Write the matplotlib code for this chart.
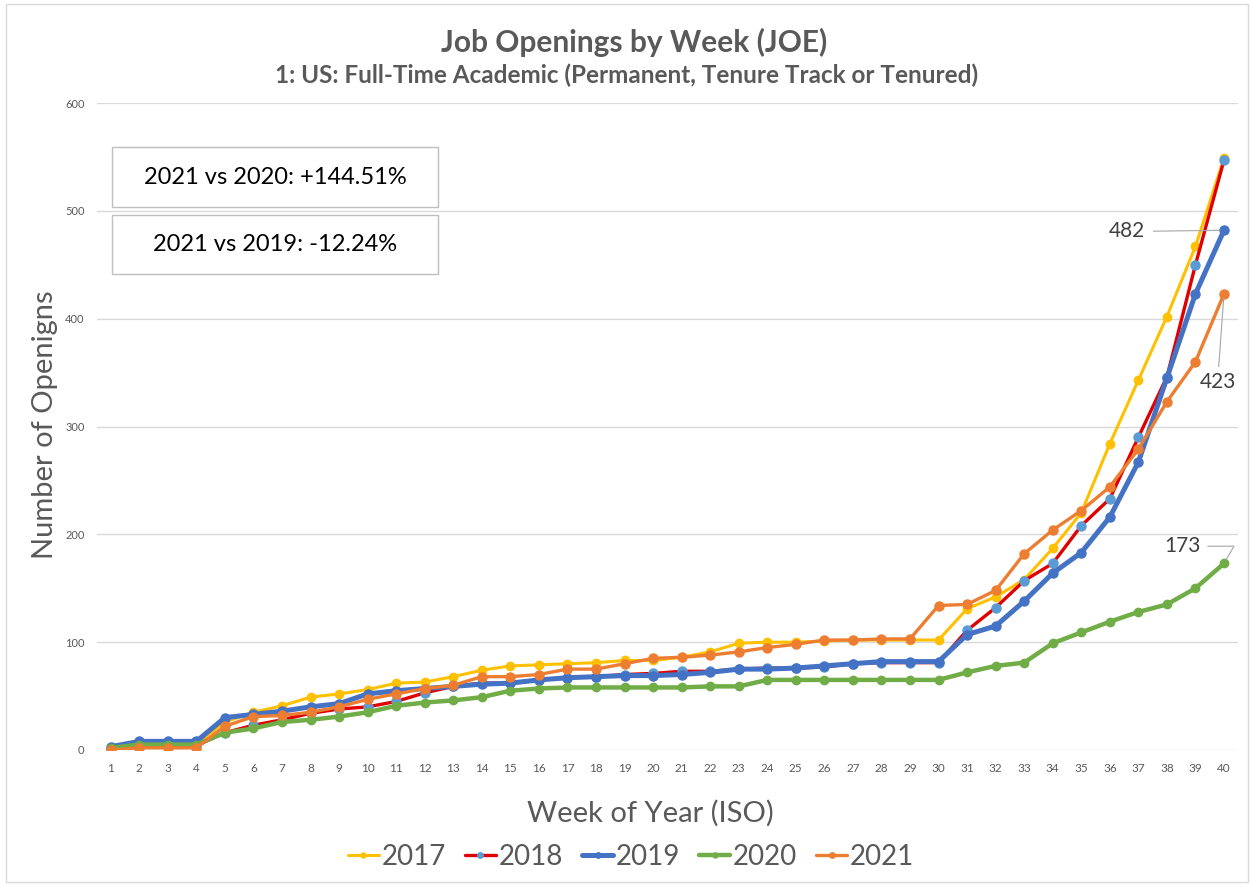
import matplotlib
matplotlib.use("Agg")
import matplotlib.pyplot as plt
from matplotlib.patches import Rectangle

weeks = list(range(1, 41))
s2017 = [2, 5, 5, 5, 26, 35, 41, 49, 52, 56, 62, 63, 68, 74, 78, 79, 80, 81, 83, 83,
         86, 91, 99, 100, 100, 101, 102, 102, 102, 102, 131, 142, 158, 187, 220, 284, 343, 402, 467, 549]
s2018 = [2, 4, 4, 4, 16, 23, 28, 34, 38, 40, 45, 53, 59, 62, 62, 65, 67, 68, 70, 71,
         73, 73, 75, 76, 76, 77, 80, 81, 81, 81, 111, 132, 157, 173, 208, 233, 290, 346, 450, 547]
s2019 = [3, 8, 8, 8, 30, 33, 36, 40, 43, 52, 55, 57, 59, 61, 62, 65, 67, 68, 69, 69,
         70, 72, 75, 75, 76, 78, 80, 82, 82, 82, 107, 115, 138, 164, 183, 216, 267, 345, 423, 482]
s2020 = [2, 5, 5, 5, 16, 20, 26, 28, 31, 35, 41, 44, 46, 49, 55, 57, 58, 58, 58, 58,
         58, 59, 59, 65, 65, 65, 65, 65, 65, 65, 72, 78, 81, 99, 109, 119, 128, 135, 150, 173]
s2021 = [0, 2, 2, 2, 22, 31, 32, 35, 40, 47, 52, 57, 60, 68, 68, 70, 75, 75, 80, 85,
         86, 88, 91, 95, 98, 102, 102, 103, 103, 134, 135, 148, 182, 204, 222, 244, 279, 323, 360, 423]
years = ["2017", "2018", "2019", "2020", "2021"]
box_texts = ["2021 vs 2020: +144.51%", "2021 vs 2019: -12.24%"]
title = "Job Openings by Week (JOE)"
subtitle = "1: US: Full-Time Academic (Permanent, Tenure Track or Tenured)"

plt.rcParams['font.family'] = ['Lato', 'DejaVu Sans']
GRAY = '#595959'

W, H = 1252, 886
fig = plt.figure(figsize=(W / 100, H / 100), dpi=100)
fig.patches.append(Rectangle((6 / W, 4 / H), (W - 10) / W, (H - 8) / H, transform=fig.transFigure,
                             fill=False, edgecolor='#D9D9D9', linewidth=1.0))

ax = fig.add_axes([97 / W, 1 - 750 / H, (1238 - 97) / W, (750 - 103) / H])

styles = [
    dict(color='#FFC000', lw=2.2, marker='o', ms=6, mfc='#FFC000', mec='#FFC000'),
    dict(color='#E00000', lw=2.4, marker='o', ms=6.5, mfc='#5B9BD5', mec='#5B9BD5'),
    dict(color='#4472C4', lw=3.6, marker='o', ms=6.5, mfc='#4472C4', mec='#4472C4'),
    dict(color='#70AD47', lw=3.2, marker='o', ms=6, mfc='#70AD47', mec='#70AD47'),
    dict(color='#ED7D31', lw=2.4, marker='o', ms=6.5, mfc='#ED7D31', mec='#ED7D31'),
]
series = [s2017, s2018, s2019, s2020, s2021]
handles = []
for yr, vals, st in zip(years, series, styles):
    h, = ax.plot(weeks, vals, label=yr, solid_capstyle='round', **st)
    handles.append(h)

# x limits: week 1 at px 110.7, week 40 at px 1224
ppw = (1224 - 110.7) / 39
ax.set_xlim(1 - (110.7 - 97) / ppw, 40 + (1238 - 1224) / ppw)
ax.set_ylim(0, 600)
ax.set_xticks(weeks)
ax.set_xticklabels([str(w) for w in weeks])
ax.set_yticks([0, 100, 200, 300, 400, 500, 600])
ax.tick_params(axis='both', length=0, labelcolor=GRAY)
ax.tick_params(axis='x', labelsize=8.5, pad=9)
ax.tick_params(axis='y', labelsize=8, pad=9)
ax.grid(axis='y', color='#D9D9D9', linewidth=1.0)
ax.set_axisbelow(True)
for sp in ax.spines.values():
    sp.set_visible(False)

fig.text(45 / W, 1 - 425 / H, "Number of Openigns", rotation=90, ha='center', va='center',
         fontsize=21, color=GRAY)
fig.text(650 / W, 1 - 813 / H, "Week of Year (ISO)", ha='center', va='center',
         fontsize=21, color=GRAY)
fig.text(634 / W, 1 - 42 / H, title, ha='center', va='center', fontsize=21.5,
         fontweight='bold', color=GRAY)
fig.text(627 / W, 1 - 75 / H, subtitle, ha='center', va='center', fontsize=17.5,
         fontweight='bold', color=GRAY)

# comparison boxes
boxes = [(112, 147, 438, 207), (112, 215, 438, 274)]
for (x0, y0, x1, y1), txt in zip(boxes, box_texts):
    fig.patches.append(Rectangle((x0 / W, 1 - y1 / H), (x1 - x0) / W, (y1 - y0) / H,
                                 transform=fig.transFigure, facecolor='white',
                                 edgecolor='#BFBFBF', linewidth=1.0, zorder=5))
    fig.text((x0 + x1) / 2 / W, 1 - (y0 + y1) / 2 / H, txt, ha='center', va='center',
             fontsize=17, color='black', zorder=6)

# data labels with leader lines
lbl = dict(fontsize=15, color='#404040', ha='center', va='center')
ax.annotate(str(s2019[-1]), xy=(40, s2019[-1]), xytext=(36.6, 481), **lbl,
            arrowprops=dict(arrowstyle='-', color='#A6A6A6', lw=0.8, relpos=(1, 0.5),
                            shrinkA=4, shrinkB=3))
ax.annotate(str(s2021[-1]), xy=(40, s2021[-1]), xytext=(39.8, 341), **lbl,
            arrowprops=dict(arrowstyle='-', color='#A6A6A6', lw=0.8, relpos=(0.5, 1),
                            shrinkA=2, shrinkB=3))
ax.annotate(str(s2020[-1]), xy=(40, s2020[-1]), xytext=(38.55, 189), **lbl,
            arrowprops=dict(arrowstyle='-', color='#A6A6A6', lw=0.8, relpos=(1, 0.5),
                            shrinkA=3, shrinkB=3,
                            connectionstyle='angle,angleA=0,angleB=60,rad=0'))

fig.legend(handles=handles, labels=years, loc='center', bbox_to_anchor=(631 / W, 1 - 857 / H),
           ncol=5, frameon=False, fontsize=20, labelcolor=GRAY, handlelength=1.1,
           handletextpad=0.1, columnspacing=0.7, markerscale=0.6)

fig.savefig("out.png", dpi=100)
